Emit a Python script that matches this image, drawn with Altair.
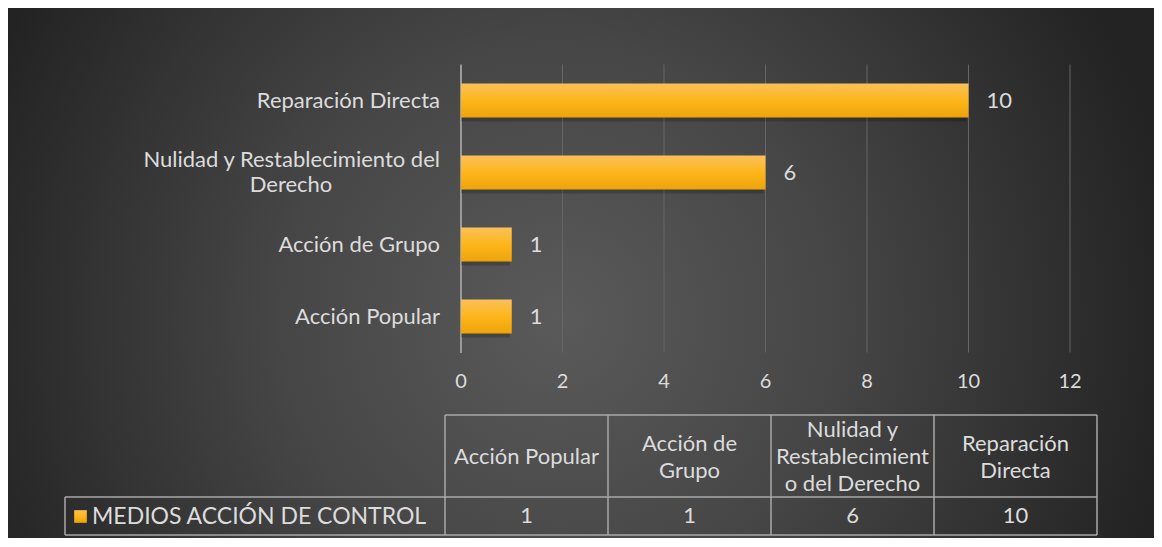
import altair as alt
import pandas as pd

# ---------------- data ----------------
categories = ["Acción Popular", "Acción de Grupo",
              "Nulidad y Restablecimiento del Derecho", "Reparación Directa"]
values = [1, 1, 6, 10]
label_lines = [["Acción Popular"], ["Acción de Grupo"],
               ["Nulidad y Restablecimiento del", "Derecho"], ["Reparación Directa"]]
table_headers = ["Acción Popular", "Acción de\nGrupo",
                 "Nulidad y\nRestablecimient\no del Derecho", "Reparación\nDirecta"]
x_ticks = [0, 2, 4, 6, 8, 10, 12]
series_name = "MEDIOS ACCIÓN DE CONTROL"

# ---------------- layout ----------------
W, H = 1146, 530
FONT = "Lato"
TXT = "#dcdcdc"
FS = 22
X0, X1 = 453, 1062          # pixel range for 0..12
Y0, Y1 = 56.5, 344.5        # band range
TAB_L, TAB_R = 437, 1089    # table column range
TAB_T, TAB_M, TAB_B = 407, 489, 527
LEG_L = 57
LH = 27

xs = alt.Scale(domain=[0, 12], range=[X0, X1])
order = categories[::-1]
ys = alt.Scale(domain=order, range=[Y0, Y1], paddingInner=0.53, paddingOuter=0.265)
cs = alt.Scale(domain=[0, len(categories)], range=[TAB_L, TAB_R])

bars_df = pd.DataFrame({"cat": categories, "v": values})
ticks_df = pd.DataFrame({"t": x_ticks})
rows = []
for c, lines in zip(categories, label_lines):
    if len(lines) == 1:
        rows.append({"cat": c, "line": lines[0], "part": "single"})
    else:
        rows.append({"cat": c, "line": lines[0], "part": "first"})
        for l in lines[1:]:
            rows.append({"cat": c, "line": l, "part": "cont"})
lab_df = pd.DataFrame(rows)
tab_df = pd.DataFrame({"col": [i + 0.5 for i in range(len(categories))],
                       "head": table_headers, "v": values})
cols_df = pd.DataFrame({"c": list(range(len(categories) + 1))})
one = pd.DataFrame({"a": [0]})

bar_grad = alt.LinearGradient(
    gradient="linear",
    stops=[alt.GradientStop(color="#f9c05a", offset=0),
           alt.GradientStop(color="#fdb61a", offset=0.5),
           alt.GradientStop(color="#eea30b", offset=1)],
    x1=0, x2=0, y1=0, y2=1)

# ---------------- layers ----------------
bg = alt.Chart(one).mark_rect(
    fill=alt.RadialGradient(
        gradient="radial",
        stops=[alt.GradientStop(color="#5a5a5a", offset=0),
               alt.GradientStop(color="#464646", offset=0.45),
               alt.GradientStop(color="#232323", offset=1)],
        x1=0.48, y1=0.54, r1=0, x2=0.48, y2=0.54, r2=0.54)
).encode(x=alt.value(0), x2=alt.value(W), y=alt.value(0), y2=alt.value(H))

grid = alt.Chart(ticks_df).transform_filter("datum.t > 0").mark_rule(
    stroke="#666666", strokeWidth=1
).encode(x=alt.X("t:Q", scale=xs, axis=None), y=alt.value(Y0), y2=alt.value(Y1))

axis0 = alt.Chart(ticks_df).transform_filter("datum.t == 0").mark_rule(
    stroke="#9a9a9a", strokeWidth=2
).encode(x=alt.X("t:Q", scale=xs, axis=None), y=alt.value(Y0), y2=alt.value(Y1 + 0.5))

tick_labels = alt.Chart(ticks_df).mark_text(
    font=FONT, fontSize=20, color=TXT, baseline="middle", align="center"
).encode(x=alt.X("t:Q", scale=xs, axis=None), y=alt.value(374), text="t:Q")

shadow = alt.Chart(bars_df).mark_bar(color="#000000", opacity=0.2, yOffset=4, xOffset=-2).encode(
    y=alt.Y("cat:N", scale=ys, axis=None),
    x=alt.X("v:Q", scale=xs, axis=None),
    x2=alt.datum(0),
)

bars = alt.Chart(bars_df).mark_bar(fill=bar_grad).encode(
    y=alt.Y("cat:N", scale=ys, axis=None),
    x=alt.X("v:Q", scale=xs, axis=None),
    x2=alt.datum(0),
)

val_labels = alt.Chart(bars_df).mark_text(
    font=FONT, fontSize=FS, color=TXT, align="left", baseline="middle", dx=18
).encode(y=alt.Y("cat:N", scale=ys, axis=None), x=alt.X("v:Q", scale=xs, axis=None), text="v:Q")

lab_single = alt.Chart(lab_df).transform_filter("datum.part == 'single'").mark_text(
    font=FONT, fontSize=FS, color=TXT, align="right", baseline="middle"
).encode(y=alt.Y("cat:N", scale=ys, axis=None), x=alt.value(432), text="line:N")
lab_first = alt.Chart(lab_df).transform_filter("datum.part == 'first'").mark_text(
    font=FONT, fontSize=FS, color=TXT, align="right", baseline="middle", dy=-12.5
).encode(y=alt.Y("cat:N", scale=ys, axis=None), x=alt.value(432), text="line:N")
lab_cont = alt.Chart(lab_df).transform_filter("datum.part == 'cont'").mark_text(
    font=FONT, fontSize=FS, color=TXT, align="center", baseline="middle", dy=12.5
).encode(y=alt.Y("cat:N", scale=ys, axis=None), x=alt.value(283), text="line:N")

LINE = "#a8a8a8"
tab_v = alt.Chart(cols_df).mark_rule(stroke=LINE, strokeWidth=1.5).encode(
    x=alt.X("c:Q", scale=cs, axis=None), y=alt.value(TAB_T), y2=alt.value(TAB_B))
tab_h = alt.Chart(pd.DataFrame({"y": [TAB_T, TAB_M, TAB_B],
                                "xa": [TAB_L, LEG_L, LEG_L]})).mark_rule(
    stroke=LINE, strokeWidth=1.5
).encode(x=alt.X("xa:Q", scale=None, axis=None), x2=alt.value(TAB_R),
         y=alt.Y("y:Q", scale=None, axis=None))
tab_leg_v = alt.Chart(one).mark_rule(stroke=LINE, strokeWidth=1.5).encode(
    x=alt.value(LEG_L), y=alt.value(TAB_M), y2=alt.value(TAB_B))

head_mid = (TAB_T + TAB_M) / 2 + 1
head_text = alt.Chart(tab_df).transform_calculate(
    ny=f"{head_mid} - (split(datum.head, '\\n').length - 1) * {LH / 2}"
).mark_text(
    font=FONT, fontSize=FS, color=TXT, align="center", baseline="middle",
    lineBreak="\n", lineHeight=LH
).encode(x=alt.X("col:Q", scale=cs, axis=None),
         y=alt.Y("ny:Q", scale=None, axis=None), text="head:N")

val_text = alt.Chart(tab_df).mark_text(
    font=FONT, fontSize=FS, color=TXT, align="center", baseline="middle"
).encode(x=alt.X("col:Q", scale=cs, axis=None), y=alt.value((TAB_M + TAB_B) / 2), text="v:Q")

leg_sw = alt.Chart(one).mark_point(
    shape="square", filled=True, size=160, opacity=1, fill=bar_grad
).encode(x=alt.value(72.5), y=alt.value(508.5))

leg_text = alt.Chart(pd.DataFrame({"s": [series_name]})).mark_text(
    font=FONT, fontSize=23, color=TXT, align="left", baseline="middle"
).encode(x=alt.value(84), y=alt.value(509), text="s:N")

chart = alt.layer(
    bg, grid, axis0, tick_labels, shadow, bars, val_labels,
    lab_single, lab_first, lab_cont,
    tab_v, tab_h, tab_leg_v, head_text, val_text, leg_sw, leg_text
).resolve_scale(x="independent", y="independent").properties(
    width=W, height=H, autosize=alt.AutoSizeParams(type="none"), padding=0
).configure_view(stroke=None).configure(background="#ffffff")

chart.save("out.html", embed_options={"renderer": "svg", "actions": False})
